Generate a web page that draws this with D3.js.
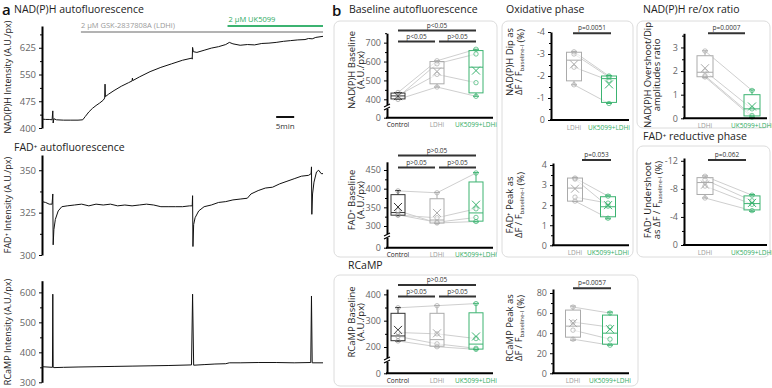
<!DOCTYPE html>
<html>
<head>
<meta charset="utf-8">
<script src="https://cdn.jsdelivr.net/npm/d3@7"></script>
<style>
  body { margin: 0; background: #fff; }
  svg { font-family: "Open Sans", sans-serif; }
</style>
</head>
<body>
<div id="fig"></div>
<script>
// ---- panel a traces: [time (min), intensity] ----
var nadTrace = [[0,425],[1,424],[2,424],[2.8,423],[3.0,448],[3.1,414],[3.3,426],[4,423],[6,422],[8,422],[10,422],[11.3,423],
  [12,432],[13,445],[14,455],[15,463],[16,470],[17,478],[17.4,484],[17.5,523],[17.6,488],[18.5,495],[20,505],[22,517],[24,527],
  [25,532],[25.1,540],[25.2,533],[27,543],[30,558],[33,570],[36,580],[39,590],[41.6,596],[41.7,593],[41.8,626],[42,614],[43,612],
  [45,618],[47,624],[49,628],[51,634],[52,640],[53,636],[55,632],[57,634],[59,633],[61,637],[63,638],[65,640],[67,643],[69,645],
  [71,647],[73,648],[74,651],[75,650],[76,654],[78,657]];
var fadTrace = [[0,331.5],[1,331],[2,330],[2.8,330],[3.0,336],[3.1,306],[3.3,315],[3.7,321],[4.5,326],[5.5,328.5],[7,329],[9,329.5],
  [11,330],[13,329],[15,330],[17,329.5],[19,330],[21,329],[23,329.5],[25,329],[27,329.5],[29,330],[31,329.5],[33,328.5],[35,328.5],
  [37,328.5],[39,328.5],[41,329],[41.7,329],[41.8,335],[41.9,305],[42.1,318],[42.5,322],[43.5,326],[45,328.5],[47,329.5],[49,331],
  [51,331.5],[53,332.5],[55,333],[57,333.5],[58,336],[60,338],[62,339.5],[64,340],[66,342],[68,343.5],[70,345],[72,346.5],[74,347],
  [74.7,348],[74.8,352],[74.9,324],[75.1,336],[75.5,343],[76.2,349],[76.8,350],[77.5,348],[78,348]];
var rcampTrace = [[0,352],[2.9,350],[3.0,594],[3.1,350],[3.3,349],[6,350],[10,351],[15,352],[20,353],[25,354],[30,355],[35,356],
  [41.5,358],[41.8,594],[42.1,357],[45,359],[48,361],[51,362],[52,365],[55,365],[60,366],[65,366],[70,365],[74.6,366],[74.8,588],
  [75,365],[78,365]];
var ldhiStart = 10.8, ukStart = 51.5, traceEnd = 78;

// ---- panel b categories ----
var cats3 = ["Control", "LDHi", "UK5099+LDHi"];
var cats2 = ["LDHi", "UK5099+LDHi"];

// NAD(P)H baseline
var nadBaseLo = [398, 465, 416], nadBaseQ1 = [402, 482, 434], nadBaseMed = [418, 565, 570];
var nadBaseQ3 = [433, 600, 658], nadBaseHi = [436, 604, 665], nadBaseMean = [417, 547, 552];
var nadBasePts = [[436, 604, 665], [420, 532, 488], [398, 465, 416], [412, 588, 640]];
// FAD baseline
var fadBaseLo = [328, 307, 311], fadBaseQ1 = [329, 308, 313], fadBaseMed = [336, 316, 335];
var fadBaseQ3 = [384, 373, 418], fadBaseHi = [395, 390, 443], fadBaseMean = [351, 335, 357];
var fadBasePts = [[394, 389, 442], [341, 308, 312], [330, 310, 323], [329, 322, 346]];
// RCaMP baseline
var rcBaseLo = [222, 200, 181], rcBaseQ1 = [224, 203, 184], rcBaseMed = [242, 228, 211];
var rcBaseQ3 = [328, 328, 330], rcBaseHi = [350, 358, 366], rcBaseMean = [265, 252, 240];
var rcBasePts = [[349, 357, 365], [255, 250, 232], [223, 201, 182], [240, 212, 190]];
// NAD(P)H dip (oxidative phase)
var dipLo = [-1.6, -0.75], dipQ1 = [-1.78, -0.8], dipMed = [-2.72, -1.88];
var dipQ3 = [-3.08, -2.0], dipHi = [-3.12, -2.02], dipMean = [-2.53, -1.62];
var dipPts = [[-3.1, -2.0], [-3.0, -1.95], [-2.4, -1.8], [-1.6, -0.75]];
// FAD peak (oxidative phase)
var fadPkLo = [2.18, 1.32], fadPkQ1 = [2.2, 1.42], fadPkMed = [2.85, 1.92];
var fadPkQ3 = [3.35, 2.42], fadPkHi = [3.38, 2.5], fadPkMean = [2.82, 2.0];
var fadPkPts = [[3.35, 2.45], [3.3, 1.95], [2.4, 2.1], [2.2, 1.35]];
// NAD(P)H overshoot/dip ratio
var ratioLo = [1.72, 0.04], ratioQ1 = [1.76, 0.1], ratioMed = [1.95, 0.4];
var ratioQ3 = [2.65, 1.0], ratioHi = [2.86, 1.2], ratioMean = [2.12, 0.5];
var ratioPts = [[2.85, 1.18], [2.0, 0.4], [1.8, 0.12], [1.75, 0.05]];
// FAD undershoot (reductive phase)
var undLo = [-6.7, -4.8], undQ1 = [-7.2, -5.0], undMed = [-8.9, -5.9];
var undQ3 = [-9.6, -7.0], undHi = [-9.85, -7.2], undMean = [-8.6, -6.0];
var undPts = [[-9.8, -7.1], [-9.3, -6.3], [-8.4, -5.8], [-6.7, -4.9]];
// RCaMP peak
var rcPkLo = [33, 28], rcPkQ1 = [36, 29], rcPkMed = [47, 40];
var rcPkQ3 = [63, 58], rcPkHi = [67, 61], rcPkMean = [50, 44];
var rcPkPts = [[66, 60], [51, 46], [43, 34], [34, 28]];

var FONT = "'Open Sans', sans-serif";
var GREEN = "#3cb371";
var catStroke = {"Control": "#333", "LDHi": "#ababab", "UK5099+LDHi": GREEN};
var catText = {"Control": "#222", "LDHi": "#9a9a9a", "UK5099+LDHi": "#2eab63"};

var svg = d3.select("#fig").append("svg")
  .attr("width", 772)
  .attr("height", 388);

function txt(x, y, s, size, color, anchor, weight) {
  return svg.append("text")
    .attr("x", x).attr("y", y)
    .attr("font-size", size)
    .attr("fill", color || "#222")
    .attr("text-anchor", anchor || "start")
    .attr("font-weight", weight || "normal")
    .text(s);
}

function card(x, y, w, h) {
  svg.append("rect")
    .attr("x", x).attr("y", y).attr("width", w).attr("height", h)
    .attr("rx", 6)
    .attr("fill", "none")
    .attr("stroke", "#dcdcdc");
}

// rotated label; parts = [[text, isSub], ...]
function rotLabel(x, y, parts, size) {
  var t = svg.append("text")
    .attr("transform", `translate(${x},${y}) rotate(-90)`)
    .attr("text-anchor", "middle")
    .attr("font-size", size)
    .attr("fill", "#222");
  parts.forEach(function(p) {
    if (p[1]) {
      t.append("tspan").attr("dy", 2).attr("font-size", size * 0.62).text(p[0]);
      t.append("tspan").attr("dy", -2).text("");
    } else {
      t.append("tspan").text(p[0]);
    }
  });
}

function styleAxis(ax, size) {
  ax.attr("font-family", FONT).attr("font-size", size);
  ax.select(".domain").attr("stroke", "#000").attr("stroke-width", 2);
  ax.selectAll(".tick line").attr("stroke", "#000");
  ax.selectAll(".tick text").attr("fill", "#666");
}

// ---------------- panel a ----------------
txt(2, 15, "a", 15, "#111", "start", "600");
txt(14, 13, "NAD(P)H autofluorescence", 10.5, "#222");
txt(14, 151, "FAD\u207A autofluorescence", 10.5, "#222");

var xTime = d3.scaleLinear().domain([0, 78]).range([42, 323]);

function tracePanel(data, yDom, yRng, major, minor, label, labelY) {
  var y = d3.scaleLinear().domain(yDom).range(yRng);
  var ax = svg.append("g")
    .attr("transform", "translate(42,0)")
    .call(d3.axisLeft(y).tickValues(major).tickSize(3).tickSizeOuter(0).tickPadding(3));
  styleAxis(ax, 9.5);
  svg.append("g")
    .attr("transform", "translate(42,0)")
    .call(d3.axisLeft(y).tickValues(minor).tickSize(2).tickFormat("").tickSizeOuter(0))
    .select(".domain").remove();

  var line = d3.line()
    .x(d => xTime(d[0]))
    .y(d => y(d[1]));
  svg.append("path")
    .datum(data)
    .attr("d", line)
    .attr("fill", "none")
    .attr("stroke", "#111")
    .attr("stroke-width", 1);

  rotLabel(11, labelY, [[label, false]], 9);
  return y;
}

tracePanel(nadTrace, [400, 686], [128, 26], [400, 475, 550, 625], [437.5, 512.5, 587.5, 662.5],
  "NAD(P)H Intensity (A.U./px)", 77);
tracePanel(fadTrace, [300, 359], [255, 155], [300, 325, 350], [312.5, 337.5],
  "FAD\u207A Intensity (A.U./px)", 205);
tracePanel(rcampTrace, [300, 639], [382.3, 280.7], [300, 400, 500, 600], [350, 450, 550],
  "RCaMP Intensity (A.U./px)", 332);

// drug application bars
svg.append("line")
  .attr("x1", xTime(ldhiStart)).attr("x2", xTime(traceEnd))
  .attr("y1", 32).attr("y2", 32)
  .attr("stroke", "#b3b3b3").attr("stroke-width", 2);
txt(xTime(ldhiStart), 28, "2 \u00B5M GSK-2837808A (LDHi)", 7.5, "#9a9a9a");
svg.append("line")
  .attr("x1", xTime(ukStart)).attr("x2", xTime(traceEnd))
  .attr("y1", 26).attr("y2", 26)
  .attr("stroke", GREEN).attr("stroke-width", 2);
txt(xTime(ukStart) + 1, 22, "2 \u00B5M UK5099", 7.5, "#2eab63");

// 5 min scale bar
svg.append("line")
  .attr("x1", xTime(65)).attr("x2", xTime(70))
  .attr("y1", 117).attr("y2", 117)
  .attr("stroke", "#111").attr("stroke-width", 2);
txt((xTime(65) + xTime(70)) / 2, 129, "5min", 8, "#333", "middle");

// ---------------- panel b ----------------
txt(332, 16, "b", 15, "#111", "start", "600");
txt(349, 13, "Baseline autofluorescence", 10.5, "#222");
txt(506, 13, "Oxidative phase", 10.5, "#222");
txt(643, 13, "NAD(P)H re/ox ratio", 10.5, "#222");
txt(643, 140, "FAD\u207A reductive phase", 10.5, "#222");
txt(348, 269, "RCaMP", 10.5, "#222");

card(334, 21, 163, 236);
card(502, 21, 131, 236);
card(637, 21, 133, 107);
card(637, 146, 133, 111);
card(334, 275, 304, 111);

function boxPanel(c) {
  var g = svg.append("g");
  var y = c.y;
  var y0 = y(0);
  var x = d3.scalePoint().domain(c.cats).range(c.xr);

  // individual cell lines
  c.pts.forEach(function(p) {
    g.append("path")
      .datum(p)
      .attr("d", d3.line().x((d, i) => x(c.cats[i])).y(d => y(d)))
      .attr("fill", "none")
      .attr("stroke", "#cfcfcf")
      .attr("stroke-width", 1);
  });

  c.cats.forEach(function(cat, i) {
    var cx = x(cat), col = catStroke[cat], hw = c.hw;
    // whiskers
    g.append("line").attr("x1", cx).attr("x2", cx).attr("y1", y(c.q3[i])).attr("y2", y(c.hi[i]))
      .attr("stroke", col);
    g.append("line").attr("x1", cx).attr("x2", cx).attr("y1", y(c.q1[i])).attr("y2", y(c.lo[i]))
      .attr("stroke", col);
    [c.hi[i], c.lo[i]].forEach(function(v) {
      g.append("line").attr("x1", cx - 3).attr("x2", cx + 3).attr("y1", y(v)).attr("y2", y(v))
        .attr("stroke", col);
    });
    // box
    g.append("rect")
      .attr("x", cx - hw).attr("width", hw * 2)
      .attr("y", Math.min(y(c.q1[i]), y(c.q3[i])))
      .attr("height", Math.abs(y(c.q1[i]) - y(c.q3[i])))
      .attr("fill", "#fff").attr("fill-opacity", 0.6)
      .attr("stroke", col);
    g.append("line").attr("x1", cx - hw).attr("x2", cx + hw)
      .attr("y1", y(c.med[i])).attr("y2", y(c.med[i]))
      .attr("stroke", col);
    // mean marker
    var my = y(c.mean[i]);
    g.append("path")
      .attr("d", `M${cx - 4},${my - 4}L${cx + 4},${my + 4}M${cx - 4},${my + 4}L${cx + 4},${my - 4}`)
      .attr("stroke", col).attr("stroke-width", 1);
    // points
    c.pts.forEach(function(p) {
      g.append("circle").attr("cx", cx).attr("cy", y(p[i])).attr("r", 2.2)
        .attr("fill", "none").attr("stroke", cat === "Control" ? "#999" : col)
        .attr("stroke-opacity", 0.7);
    });
    // category label
    g.append("text")
      .attr("x", cx).attr("y", y0 + 9.5)
      .attr("text-anchor", "middle")
      .attr("font-size", 6.5)
      .attr("fill", catText[cat])
      .text(cat);
  });

  // axes
  var ax = g.append("g")
    .attr("transform", `translate(${c.ax},0)`)
    .call(d3.axisLeft(y).tickValues(c.ticks).tickSize(3).tickSizeOuter(0).tickPadding(3)
      .tickFormat(d => String(d)));
  styleAxis(ax, 9);
  g.append("g")
    .attr("transform", `translate(${c.ax},0)`)
    .call(d3.axisLeft(y).tickValues(c.minor).tickSize(2).tickFormat("").tickSizeOuter(0))
    .select(".domain").remove();
  g.append("line")
    .attr("x1", c.ax - 1).attr("x2", c.axEnd)
    .attr("y1", y0).attr("y2", y0)
    .attr("stroke", "#000").attr("stroke-width", 2);

  if (c.brk) {
    g.append("rect").attr("x", c.ax - 3).attr("y", c.brk - 2).attr("width", 6).attr("height", 4)
      .attr("fill", "#fff");
    g.append("path")
      .attr("d", `M${c.ax - 3},${c.brk}L${c.ax + 3},${c.brk - 3}M${c.ax - 3},${c.brk + 3}L${c.ax + 3},${c.brk}`)
      .attr("stroke", "#000").attr("stroke-width", 1.2);
  }

  // significance bars
  c.sig.forEach(function(s) {
    g.append("line")
      .attr("x1", s[0]).attr("x2", s[1]).attr("y1", s[2]).attr("y2", s[2])
      .attr("stroke", "#333").attr("stroke-width", 2);
    g.append("text")
      .attr("x", (s[0] + s[1]) / 2).attr("y", s[2] - 3)
      .attr("text-anchor", "middle")
      .attr("font-size", 6.5)
      .attr("fill", "#333")
      .text(s[3]);
  });

  // y label
  rotLabel(c.lx[0], c.ly, c.lab1, 9.5);
  rotLabel(c.lx[1], c.ly, c.lab2, 9.5);
}

var dfLabel = [["\u0394F / F", false], ["baseline-I", true], [" (%)", false]];

// NAD(P)H baseline
boxPanel({
  cats: cats3, xr: [398, 476], hw: 7, ax: 387, axEnd: 493,
  y: d3.scaleLinear().domain([0, 400, 750]).range([117.7, 99.3, 33.2]),
  ticks: [0, 400, 500, 600, 700], minor: [450, 550, 650, 750], brk: 107,
  lo: nadBaseLo, q1: nadBaseQ1, med: nadBaseMed, q3: nadBaseQ3, hi: nadBaseHi, mean: nadBaseMean, pts: nadBasePts,
  sig: [[398, 476, 30.5, "p<0.05"], [398, 435, 41.5, "p<0.05"], [439, 476, 41.5, "p>0.05"]],
  lab1: [["NAD(P)H Baseline", false]], lab2: [["(A.U./px)", false]], lx: [355, 364], ly: 70
});
// FAD baseline
boxPanel({
  cats: cats3, xr: [398, 476], hw: 7, ax: 387, axEnd: 493,
  y: d3.scaleLinear().domain([0, 300, 472]).range([247.7, 226, 161.8]),
  ticks: [0, 300, 350, 400, 450], minor: [325, 375, 425], brk: 236,
  lo: fadBaseLo, q1: fadBaseQ1, med: fadBaseMed, q3: fadBaseQ3, hi: fadBaseHi, mean: fadBaseMean, pts: fadBasePts,
  sig: [[398, 476, 155.5, "p>0.05"], [398, 435, 167.5, "p>0.05"], [439, 476, 167.5, "p>0.05"]],
  lab1: [["FAD\u207A Baseline", false]], lab2: [["(A.U./px)", false]], lx: [355, 364], ly: 200
});
// RCaMP baseline
boxPanel({
  cats: cats3, xr: [398, 476], hw: 7, ax: 387, axEnd: 493,
  y: d3.scaleLinear().domain([0, 200, 420]).range([373.3, 347, 289.1]),
  ticks: [0, 200, 300, 400], minor: [250, 350], brk: 360,
  lo: rcBaseLo, q1: rcBaseQ1, med: rcBaseMed, q3: rcBaseQ3, hi: rcBaseHi, mean: rcBaseMean, pts: rcBasePts,
  sig: [[398, 476, 285, "p>0.05"], [398, 435, 296.5, "p>0.05"], [439, 476, 296.5, "p>0.05"]],
  lab1: [["RCaMP Baseline", false]], lab2: [["(A.U./px)", false]], lx: [355, 364], ly: 322
});
// NAD(P)H dip
boxPanel({
  cats: cats2, xr: [574, 609], hw: 7.5, ax: 551, axEnd: 629,
  y: d3.scaleLinear().domain([0, -4]).range([120, 32]),
  ticks: [0, -1, -2, -3, -4], minor: [-0.5, -1.5, -2.5, -3.5], brk: null,
  lo: dipLo, q1: dipQ1, med: dipMed, q3: dipQ3, hi: dipHi, mean: dipMean, pts: dipPts,
  sig: [[573, 611, 33.3, "p=0.0051"]],
  lab1: [["NAD(P)H Dip as", false]], lab2: dfLabel, lx: [513, 522], ly: 62
});
// FAD peak
boxPanel({
  cats: cats2, xr: [575, 608], hw: 7.5, ax: 553, axEnd: 629,
  y: d3.scaleLinear().domain([0, 4.1]).range([245.3, 163]),
  ticks: [0, 1, 2, 3, 4], minor: [0.5, 1.5, 2.5, 3.5], brk: null,
  lo: fadPkLo, q1: fadPkQ1, med: fadPkMed, q3: fadPkQ3, hi: fadPkHi, mean: fadPkMean, pts: fadPkPts,
  sig: [[582, 611, 160, "p=0.053"]],
  lab1: [["FAD\u207A Peak as", false]], lab2: dfLabel, lx: [513, 522], ly: 205
});
// NAD(P)H overshoot/dip ratio
boxPanel({
  cats: cats2, xr: [705, 752], hw: 8, ax: 684, axEnd: 767,
  y: d3.scaleLinear().domain([0, 3.6]).range([118.3, 33.3]),
  ticks: [0, 1, 2, 3], minor: [0.5, 1.5, 2.5, 3.5], brk: null,
  lo: ratioLo, q1: ratioQ1, med: ratioMed, q3: ratioQ3, hi: ratioHi, mean: ratioMean, pts: ratioPts,
  sig: [[708, 745, 33.3, "p=0.0007"]],
  lab1: [["NAD(P)H Overshoot/Dip", false]], lab2: [["amplitudes ratio", false]], lx: [651, 660], ly: 75
});
// FAD undershoot
boxPanel({
  cats: cats2, xr: [705, 752], hw: 8, ax: 684, axEnd: 767,
  y: d3.scaleLinear().domain([0, -12.4]).range([245, 158]),
  ticks: [0, -4, -8, -12], minor: [-2, -6, -10], brk: null,
  lo: undLo, q1: undQ1, med: undMed, q3: undQ3, hi: undHi, mean: undMean, pts: undPts,
  sig: [[708, 746, 160, "p=0.062"]],
  lab1: [["FAD\u207A Undershoot", false]], lab2: [["as ", false]].concat(dfLabel), lx: [651, 660], ly: 200
});
// RCaMP peak
boxPanel({
  cats: cats2, xr: [573, 610], hw: 7.5, ax: 553, axEnd: 629,
  y: d3.scaleLinear().domain([0, 84]).range([373.3, 289]),
  ticks: [0, 20, 40, 60, 80], minor: [10, 30, 50, 70], brk: null,
  lo: rcPkLo, q1: rcPkQ1, med: rcPkMed, q3: rcPkQ3, hi: rcPkHi, mean: rcPkMean, pts: rcPkPts,
  sig: [[573, 611, 288.3, "p=0.0057"]],
  lab1: [["RCaMP Peak as", false]], lab2: dfLabel, lx: [513, 522], ly: 328
});
</script>
</body>
</html>
